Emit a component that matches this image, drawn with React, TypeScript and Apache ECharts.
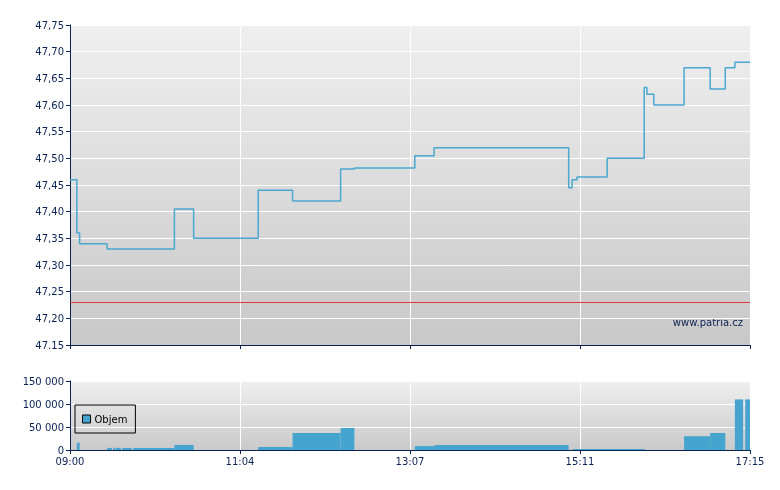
import React, { useEffect, useRef } from "react";
import * as echarts from "echarts";

// time in minutes after 09:00
const priceTimes = [0, 5, 7, 27, 76, 90, 137, 162, 197, 207, 251, 265, 363, 365.5, 369, 391, 418, 420, 425, 447, 466, 477, 484, 495];
const prices = [47.46, 47.36, 47.34, 47.33, 47.405, 47.35, 47.44, 47.42, 47.48, 47.482, 47.505, 47.52, 47.445, 47.46, 47.465, 47.5, 47.633, 47.62, 47.6, 47.67, 47.63, 47.67, 47.68, 47.68];
const prevClose = 47.23;

const volStart = [5, 27, 31.5, 33.3, 38, 46, 76, 137, 162, 197, 251, 265.5, 366, 447, 466, 484, 491.5];
const volEnd = [7, 30.5, 33, 37, 45, 76, 90, 162, 197, 207, 265.5, 363, 418.5, 466, 477, 490, 495];
const volValues = [16000, 4500, 4500, 4500, 4500, 4500, 11000, 6500, 37000, 48000, 8500, 11000, 2000, 30000, 37000, 110000, 110000];

const xTickLabels = ["09:00", "11:04", "13:07", "15:11", "17:15"];
const priceTickLabels = ["47.15", "47,20", "47,25", "47,30", "47,35", "47,40", "47,45", "47,50", "47,55", "47,60", "47,65", "47,70", "47,75"];
const volTickLabels = ["0", "50 000", "100 000", "150 000"];

const NAVY = "#0a2154";
const FONT = "DejaVu Sans";
const X_INT = 123.75;

export default function App() {
  const ref = useRef<HTMLDivElement>(null);
  useEffect(() => {
    if (!ref.current) return;
    const chart = echarts.init(ref.current, undefined, { renderer: "svg" });
    const bg = new echarts.graphic.LinearGradient(0, 0, 0, 1, [
      { offset: 0, color: "#efefef" },
      { offset: 1, color: "#c8c8c8" },
    ]);
    const bg2 = new echarts.graphic.LinearGradient(0, 0, 0, 1, [
      { offset: 0, color: "#efefef" },
      { offset: 1, color: "#c9c9c9" },
    ]);
    const xAxisCommon = (showLabel: boolean) => ({
      type: "value",
      min: 0,
      max: 495,
      interval: X_INT,
      axisLine: { show: true, lineStyle: { color: NAVY, width: 1 } },
      axisTick: { show: true, length: 4, lineStyle: { color: NAVY } },
      splitLine: { show: true, lineStyle: { color: "#ffffff", width: 1 } },
      axisLabel: {
        show: showLabel,
        color: NAVY,
        fontFamily: FONT,
        fontSize: 10,
        margin: 6,
        showMinLabel: true,
        showMaxLabel: true,
        formatter: (v: number) => xTickLabels[Math.round(v / X_INT)] ?? "",
      },
    });
    chart.setOption({
      animation: false,
      grid: [
        { left: 70, top: 25, width: 680, height: 320, show: true, backgroundColor: bg, borderWidth: 0 },
        { left: 70, top: 381, width: 680, height: 69, show: true, backgroundColor: bg2, borderWidth: 0 },
      ],
      xAxis: [
        { ...xAxisCommon(false), gridIndex: 0 },
        { ...xAxisCommon(true), gridIndex: 1 },
      ],
      yAxis: [
        {
          type: "value",
          gridIndex: 0,
          min: 47.15,
          max: 47.75,
          interval: 0.05,
          axisLine: { show: true, lineStyle: { color: NAVY } },
          axisTick: { show: true, length: 4, lineStyle: { color: NAVY } },
          splitLine: { show: true, lineStyle: { color: "#ffffff" } },
          axisLabel: {
            color: NAVY,
            fontFamily: FONT,
            fontSize: 10,
            margin: 6,
            formatter: (v: number) => priceTickLabels[Math.round((v - 47.15) / 0.05)] ?? "",
          },
        },
        {
          type: "value",
          gridIndex: 1,
          min: 0,
          max: 150000,
          interval: 50000,
          axisLine: { show: true, lineStyle: { color: NAVY } },
          axisTick: { show: true, length: 4, lineStyle: { color: NAVY } },
          splitLine: { show: true, lineStyle: { color: "#ffffff" } },
          axisLabel: {
            color: NAVY,
            fontFamily: FONT,
            fontSize: 10,
            margin: 6,
            formatter: (v: number) => volTickLabels[Math.round(v / 50000)] ?? "",
          },
        },
      ],
      legend: {
        data: ["Objem"],
        left: 75,
        top: 405,
        orient: "vertical",
        borderColor: "#000",
        borderWidth: 1,
        borderRadius: 0,
        padding: [9, 8, 9, 7],
        itemWidth: 8,
        itemHeight: 8,
        itemGap: 5,
        icon: "rect",
        selectedMode: false,
        itemStyle: { borderColor: "#000", borderWidth: 1 },
        textStyle: { color: "#000", fontFamily: FONT, fontSize: 10, padding: [0, 0, 0, -1] },
      },
      graphic: [
        {
          type: "text",
          right: 37,
          top: 317,
          style: { text: "www.patria.cz", fill: NAVY, font: `10px ${FONT}` },
        },
      ],
      series: [
        {
          type: "line",
          name: "Cena",
          xAxisIndex: 0,
          yAxisIndex: 0,
          step: "end",
          showSymbol: false,
          lineStyle: { color: "#4aa8d0", width: 1.5 },
          itemStyle: { color: "#4aa8d0" },
          data: priceTimes.map((t, i) => [t, prices[i]]),
          markLine: {
            silent: true,
            symbol: "none",
            label: { show: false },
            lineStyle: { color: "#e03a3a", width: 1, type: "solid" },
            data: [{ yAxis: prevClose }],
          },
        },
        {
          type: "custom",
          name: "Objem",
          xAxisIndex: 1,
          yAxisIndex: 1,
          itemStyle: { color: "#46a5ce" },
          encode: { x: [0, 1], y: 2 },
          data: volStart.map((s, i) => [s, volEnd[i], volValues[i]]),
          renderItem: (params: any, api: any) => {
            const p0 = api.coord([api.value(0), 0]);
            const p1 = api.coord([api.value(1), api.value(2)]);
            return {
              type: "rect",
              shape: { x: p0[0], y: p1[1], width: p1[0] - p0[0], height: p0[1] - p1[1] },
              style: { fill: "#46a5ce" },
            };
          },
        },
      ],
    });
    return () => chart.dispose();
  }, []);
  return <div ref={ref} style={{ position: "fixed", left: 0, top: 0, width: 780, height: 490 }} />;
}
